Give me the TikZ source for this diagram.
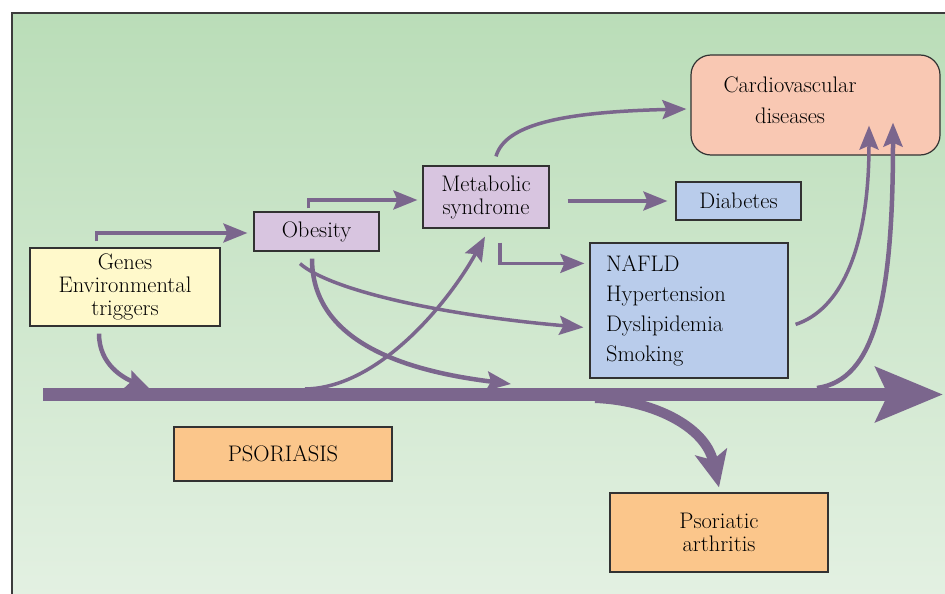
\documentclass[tikz,border=0pt]{standalone}
\usepackage{tikz}
\usetikzlibrary{arrows.meta}
\definecolor{bgtop}{RGB}{186,221,184}
\definecolor{bgbot}{RGB}{228,241,227}
\definecolor{framec}{RGB}{60,60,60}
\definecolor{boxline}{RGB}{50,50,50}
\definecolor{arrowc}{RGB}{123,102,141}
\definecolor{genesc}{RGB}{255,249,203}
\definecolor{metc}{RGB}{216,197,224}
\definecolor{riskc}{RGB}{185,204,235}
\definecolor{cvdc}{RGB}{249,200,179}
\definecolor{psc}{RGB}{251,198,139}

\begin{document}
\begin{tikzpicture}[x=1pt, y=-1pt,
		box/.style={draw=boxline, line width=1.2pt, inner sep=0pt, align=center, font=\fontsize{22.5}{23}\selectfont},
		link/.style={draw=arrowc, line width=3.5pt, -{Stealth[length=24pt, width=19pt, inset=4pt]}},
		curve/.style={link, line width=4.5pt}]
		\useasboundingbox (0,0) rectangle (945,594);
		\shade[top color=bgtop, bottom color=bgbot] (12,13) rectangle (960,610);
		\draw[framec, line width=1.5pt] (12,610)--(12,13)--(960,13);

		\node[box, fill=genesc, minimum width=190pt, minimum height=78pt] (genes) at (125,287) {Genes\\Environmental\\triggers};
		\node[box, fill=metc, minimum width=125pt, minimum height=39pt] (obesity) at (316.5,231.5) {Obesity};
		\node[box, fill=metc, minimum width=126pt, minimum height=62pt] (metab) at (486,197) {Metabolic\\syndrome};
		\node[box, fill=riskc, minimum width=125pt, minimum height=38pt] (diab) at (738.5,201) {Diabetes};
		\node[box, fill=riskc, minimum width=198pt, minimum height=135pt, text width=166pt, align=left, font=\fontsize{22.5}{30}\selectfont] (risk) at (689,310.5) {NAFLD\\Hypertension\\Dyslipidemia\\Smoking};
		\node[box, fill=cvdc, rounded corners=20pt, minimum width=249pt, minimum height=100pt,
			label={[font=\fontsize{22.5}{31}\selectfont, align=center, xshift=-25.5pt, yshift=4.5pt]center:{Cardiovascular\\diseases}}] (cvd) at (815.5,105) {};
		\node[box, fill=psc, minimum width=218pt, minimum height=54pt] (psor) at (283,454) {PSORIASIS};
		\node[box, fill=psc, minimum width=218pt, minimum height=79pt] (psa) at (719,532.5) {Psoriatic\\arthritis};

		\coordinate (bandstart) at (43,394.5);
		\coordinate (bandend) at (943,394.5);
		\coordinate (genesin) at (150,389);
		\coordinate (obesin) at (511,384);
		\coordinate (metout) at (305,389);
		\coordinate (cvdout) at (817,388);
		\coordinate (psaout) at (595,398);

		\draw[draw=arrowc, line width=13pt, -{Stealth[length=67pt, width=54pt, inset=12pt]}] (bandstart)--(bandend);
		\draw[draw=arrowc, line width=10pt, -{Stealth[length=36pt, width=32pt, inset=8pt]}] (psaout) .. controls (650,400) and (705,425) .. ([yshift=5pt]psa.north);

		\draw[link] ([xshift=67pt, yshift=6pt]genes.north west) |- ([xshift=-6pt, yshift=-1.5pt]obesity.west);
		\draw[link] ([xshift=55pt, yshift=3pt]obesity.north west) |- ([xshift=-5pt, yshift=-3pt]metab.west);
		\draw[link] ([xshift=18pt]metab.east |- diab.west)--([xshift=-8pt]diab.west);
		\draw[link] ([xshift=14pt, yshift=-14pt]metab.south) |- ([xshift=-5pt, yshift=-21pt]risk.north west);

		\draw[curve] ([xshift=-26pt, yshift=-7pt]genes.south) .. controls (99,365) and (124,378) .. (genesin);
		\draw[curve] ([xshift=-4.5pt, yshift=-7pt]obesity.south) .. controls (312,330) and (380,368) .. (obesin);
		\draw[link] ([xshift=-16.5pt, yshift=-12pt]obesity.south) .. controls (330,290) and (440,315) .. ([xshift=-6pt, yshift=-85pt]risk.north west);
		\draw[link] (metout) .. controls (380,388) and (450,300) .. ([xshift=-1pt, yshift=-8pt]metab.south);
		\draw[link] ([xshift=10pt, yshift=9pt]metab.north) .. controls (505,125) and (560,112) .. ([xshift=-4pt, yshift=-4pt]cvd.west);
		\draw[link] ([xshift=7pt, yshift=-82pt]risk.north east) .. controls (840,310) and (869,250) .. ([xshift=53.5pt, yshift=30pt]cvd.south);
		\draw[curve] (cvdout) .. controls (875,380) and (893,300) .. ([xshift=77.5pt, yshift=33pt]cvd.south);
	\end{tikzpicture}
\end{document}
